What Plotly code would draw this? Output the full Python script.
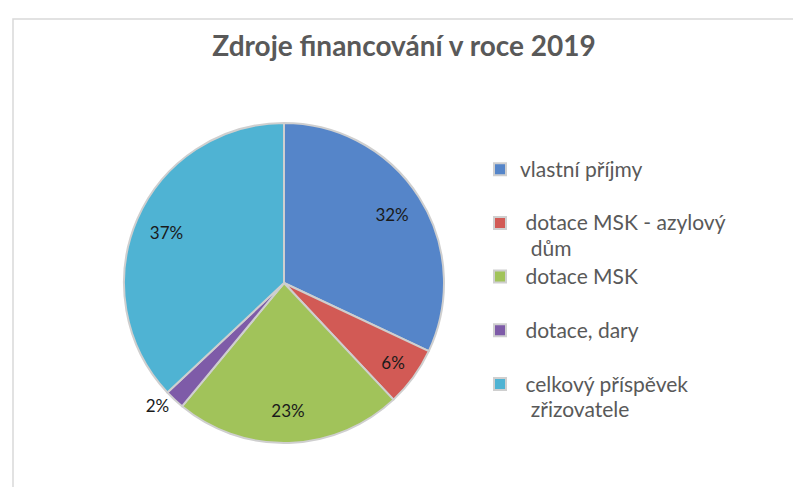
import plotly.graph_objects as go

# Data
categories = ["vlastní příjmy", " dotace MSK - azylový<br>  dům", " dotace MSK", " dotace, dary", " celkový příspěvek<br>  zřizovatele"]
values = [32, 6, 23, 2, 37]
colors = ["#5585C9", "#D25A55", "#A1C35A", "#7E5BA8", "#4FB3D3"]
text_positions = ["inside", "inside", "inside", "outside", "inside"]
# legend spacing pads (blank lines after each label)
pads = ["<br> ", "", "<br> ", "<br> ", ""]

W, H = 801, 487
FONT = "Lato, Carlito, sans-serif"
LEGEND_GLYPH = 21      # visible glyph size of legend text
LEGEND_LINE = 19.5     # nominal size -> line spacing of the legend

legend_labels = [
    "<br>".join(f'<span style="font-size:{LEGEND_GLYPH}px">{part}</span>' for part in c.split("<br>")) + p
    for c, p in zip(categories, pads)
]

pie_domain = dict(x=[116 / W, 436 / W], y=[52 / H, 372 / H])

fig = go.Figure()
# coloured pie (legend source)
fig.add_trace(go.Pie(
    labels=legend_labels,
    values=values,
    sort=False,
    direction="clockwise",
    rotation=0,
    marker=dict(colors=colors, line=dict(color="#cfcfcf", width=2)),
    textinfo="none",
    domain=pie_domain,
    hoverinfo="percent",
))
# transparent overlay ring that carries the percentage labels further out
fig.add_trace(go.Pie(
    labels=legend_labels,
    values=values,
    sort=False,
    direction="clockwise",
    rotation=0,
    hole=0.6,
    showlegend=False,
    marker=dict(colors=["rgba(0,0,0,0)"] * len(values), line=dict(width=0)),
    textinfo="percent",
    textposition=text_positions,
    insidetextorientation="horizontal",
    textfont=dict(family=FONT, size=17, color="#1a1a1a"),
    domain=pie_domain,
    hoverinfo="skip",
))

fig.update_layout(
    width=W, height=H,
    margin=dict(l=0, r=0, t=0, b=0),
    paper_bgcolor="white",
    plot_bgcolor="white",
    title=dict(
        text="<b>Zdroje financování v roce 2019</b>",
        font=dict(family=FONT, size=28, color="#595959"),
        x=396 / W, xanchor="center", y=1 - 38 / H, yanchor="middle",
    ),
    legend=dict(
        x=472 / W, xanchor="left",
        y=1 - 142 / H, yanchor="top",
        valign="top",
        itemwidth=30,
        font=dict(family=FONT, size=LEGEND_LINE, color="#595959"),
        itemclick=False,
    ),
    showlegend=True,
    shapes=[dict(
        type="rect", xref="paper", yref="paper",
        x0=5 / W, x1=1.05, y0=-0.05, y1=1 - 11 / H,
        line=dict(color="#d9d9d9", width=1.5),
        fillcolor="rgba(0,0,0,0)",
        layer="below",
    )],
)

fig.write_html("out.html")
